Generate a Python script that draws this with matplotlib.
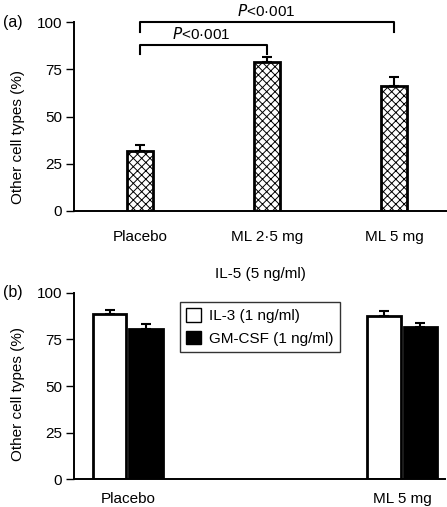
import numpy as np
import matplotlib.pyplot as plt

plt.rcParams['font.family'] = ['Liberation Sans', 'DejaVu Sans']
plt.rcParams['hatch.linewidth'] = 0.7

# panel (a) data
a_labels = ['Placebo', 'ML 2·5 mg', 'ML 5 mg']
a_values = [31.8, 79.0, 66.0]
a_err = [3.0, 2.5, 5.0]

# panel (b) data
b_labels = ['Placebo', 'ML 5 mg']
il3_values = [88.8, 87.6]
il3_err = [1.8, 2.7]
gm_values = [80.3, 81.4]
gm_err = [2.9, 2.2]

fig = plt.figure(figsize=(4.47, 5.07), dpi=100)
W, H = 447, 507


def axes_px(left, top, right, bottom):
    return fig.add_axes([left / W, 1 - bottom / H, (right - left) / W, (bottom - top) / H])


def style(ax, label_y):
    for s in ['top', 'right']:
        ax.spines[s].set_visible(False)
    for s in ['left', 'bottom']:
        ax.spines[s].set_linewidth(1.4)
    ax.set_ylim(0, 100)
    ax.set_yticks([0, 25, 50, 75, 100])
    ax.tick_params(axis='y', length=5.5, width=1.0, labelsize=11, pad=3)
    ax.tick_params(axis='x', length=0, labelsize=11)
    ax.set_ylabel('Other cell types (%)', fontsize=11)
    ax.yaxis.set_label_coords(-0.132, label_y)


# ---- (a)
ax1 = axes_px(74, 22, 447, 211)
x = np.arange(len(a_labels))
ax1.bar(x, a_values, width=0.2, color='white', edgecolor='black', linewidth=2,
        hatch='xxxx', zorder=2)
ax1.errorbar(x, a_values, yerr=[np.zeros(len(x)), a_err], fmt='none', ecolor='black',
             elinewidth=1.5, capsize=3.5, capthick=1.5, zorder=1)
ax1.set_xlim(-0.52, 2.417)
ax1.set_xticks(x)
ax1.set_xticklabels(a_labels)
ax1.tick_params(axis='x', pad=14)
style(ax1, 0.39)
ax1.set_xlabel('IL-5 (5 ng/ml)', fontsize=11, labelpad=16)

# significance brackets
ax1.plot([0, 0, 2, 2], [94.5, 100, 100, 94.5], color='black', lw=1.5, clip_on=False)
ax1.plot([0, 0, 1, 1], [83, 88, 88, 83], color='black', lw=1.5, clip_on=False)
ax1.text(0.99, 101.5, r'$\it{P}$<0·001', ha='center', va='bottom', fontsize=11)
ax1.text(0.48, 89.5, r'$\it{P}$<0·001', ha='center', va='bottom', fontsize=11)
fig.text(3 / W, 1 - 22 / H, '(a)', fontsize=11.5, va='center')

# ---- (b)
ax2 = axes_px(74, 292.7, 445, 479.3)
xb = np.arange(len(b_labels))
off, w = 0.066, 0.122
ax2.bar(xb - off, il3_values, width=w, color='white', edgecolor='black', linewidth=2,
        label='IL-3 (1 ng/ml)', zorder=2)
ax2.bar(xb + off, gm_values, width=w, color='black', edgecolor='black', linewidth=2,
        label='GM-CSF (1 ng/ml)', zorder=2)
ax2.errorbar(xb - off, il3_values, yerr=[np.zeros(2), il3_err], fmt='none',
             ecolor='black', elinewidth=1.5, capsize=3.5, capthick=1.5, zorder=1)
ax2.errorbar(xb + off, gm_values, yerr=[np.zeros(2), gm_err], fmt='none',
             ecolor='black', elinewidth=1.5, capsize=3.5, capthick=1.5, zorder=1)
ax2.set_xlim(-0.1956, 1.1556)
ax2.set_xticks(xb)
ax2.set_xticklabels(b_labels)
ax2.tick_params(axis='x', pad=9)
style(ax2, 0.457)
leg = ax2.legend(loc='upper left', bbox_to_anchor=((180 - 74) / 371, (479.3 - 302) / 186.6),
                 frameon=True, fancybox=False, edgecolor='black', fontsize=11,
                 handlelength=1.0, handleheight=1.0, handletextpad=0.5,
                 borderpad=0.4, labelspacing=0.5, borderaxespad=0)
leg.get_frame().set_linewidth(1.0)
for p in leg.get_patches():
    p.set_linewidth(1.0)
fig.text(3 / W, 1 - 292 / H, '(b)', fontsize=11.5, va='center')

fig.savefig('out.png', dpi=100)
